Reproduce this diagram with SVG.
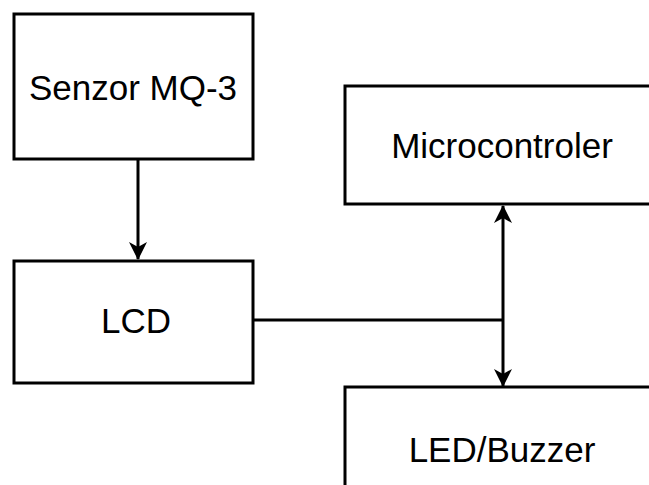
<svg xmlns="http://www.w3.org/2000/svg" width="649" height="485" viewBox="0 0 649 485">
<style>
.box{fill:#fff;stroke:#000;stroke-width:3}
.lbl{font-family:"Liberation Sans",Arial,sans-serif;font-size:35px;fill:#000;text-anchor:middle}
.ln{fill:none;stroke:#000;stroke-width:3}
</style>
<defs>
<marker id="ah" markerUnits="userSpaceOnUse" viewBox="0 0 18 18" markerWidth="18" markerHeight="18" refX="17" refY="9" orient="auto-start-reverse">
<path d="M0,0 L18,9 L0,18 L5,9 Z" fill="#000"/>
</marker>
</defs>
<rect width="649" height="485" fill="#fff"/>
<g id="senzor"><rect class="box" x="14" y="14" width="239" height="145"/><text class="lbl" x="133" y="100">Senzor MQ-3</text></g>
<g id="lcd"><rect class="box" x="14" y="261" width="239" height="122"/><text class="lbl" x="136" y="333">LCD</text></g>
<g id="micro"><rect class="box" x="345" y="86" width="313" height="118"/><text class="lbl" x="502" y="158">Microcontroler</text></g>
<g id="led"><rect class="box" x="345" y="387" width="313" height="118"/><text class="lbl" x="502" y="462">LED/Buzzer</text></g>
<g id="connectors">
<path class="ln" d="M138,159 L138,259" marker-end="url(#ah)"/>
<path class="ln" d="M503,206 L503,386" marker-start="url(#ah)" marker-end="url(#ah)"/>
<path class="ln" d="M253,320 L503,320"/>
</g>
</svg>
